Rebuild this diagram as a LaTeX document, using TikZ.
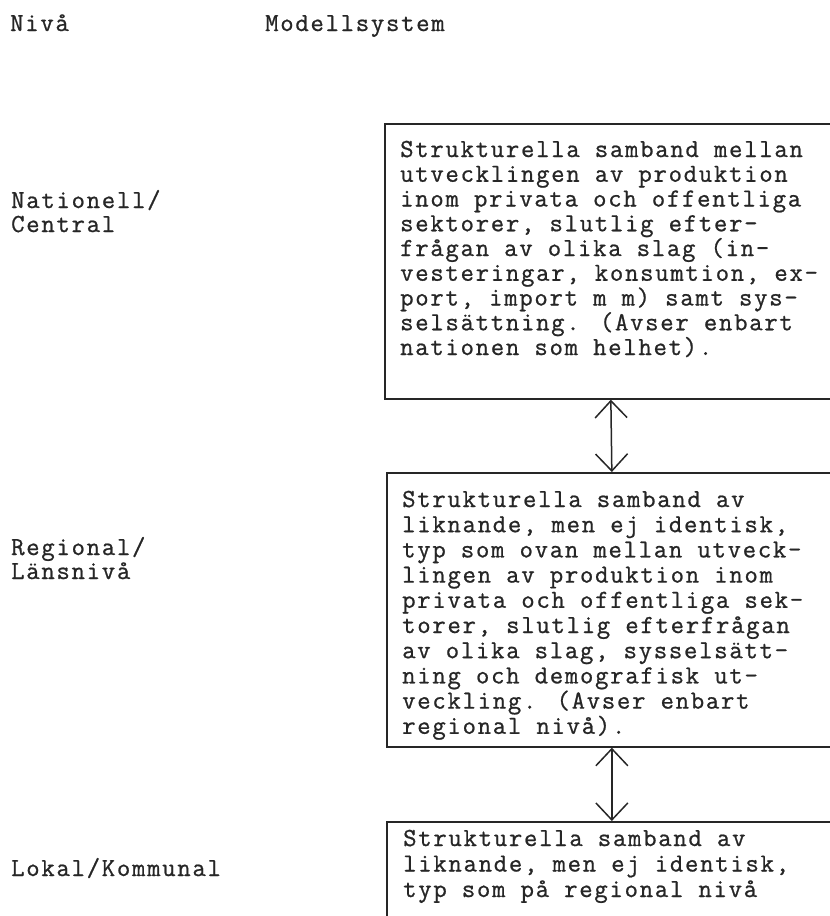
\documentclass[tikz,border=0pt]{standalone}
\usepackage{fontspec}
\setmainfont{Latin Modern Mono}[LetterSpace=6.6,FakeBold=0.8]
\usetikzlibrary{arrows.meta}
\newcommand\txtblock[2]{\parbox[t]{520pt}{\fontsize{26}{#1}\selectfont\raggedright #2}}
\tikzset{
  box/.style={draw=black!85, line width=1.7pt, anchor=north west, inner sep=0pt},
  lbl/.style={anchor=base west, inner sep=0pt, text=black!85},
  link/.style={draw=black!85, line width=1.5pt, {Straight Barb[length=17pt,width=32pt]}-{Straight Barb[length=17pt,width=32pt]}}
}
\begin{document}
\begin{tikzpicture}[x=1pt,y=1pt]
\useasboundingbox[fill=white] (0,0) rectangle (830,-916);
% header
\node[lbl] (hniva) at (10,-31) {\txtblock{25}{Nivå}};
\node[lbl] (hmodell) at (265,-31) {\txtblock{25}{Modellsystem}};
% level labels
\node[lbl] (lnat) at (11,-208) {\txtblock{24}{Nationell/\\Central}};
\node[lbl] (lreg) at (11,-555) {\txtblock{24}{Regional/\\Länsnivå}};
\node[lbl] (llok) at (11,-876) {\txtblock{24}{Lokal/Kommunal}};
% boxes
\node[box, minimum width=452pt, minimum height=275pt] (b1) at (384,-123) {};
\node[box, minimum width=450pt, minimum height=274pt] (b2) at (386,-472) {};
\node[box, minimum width=450pt, minimum height=150pt] (b3) at (386,-821) {};
% box texts
\node[lbl] (t1) at (400,-157) {\txtblock{24.75}{Strukturella samband mellan\\
utvecklingen av produktion\\
inom privata och offentliga\\
sektorer, slutlig efter-\\
frågan av olika slag (in-\\
vesteringar, konsumtion, ex-\\
port, import m m) samt sys-\\
selsättning. (Avser enbart\\
nationen som helhet).}};
\node[lbl] (t2) at (402,-507) {\txtblock{25.2}{Strukturella samband av\\
liknande, men ej identisk,\\
typ som ovan mellan utveck-\\
lingen av produktion inom\\
privata och offentliga sek-\\
torer, slutlig efterfrågan\\
av olika slag, sysselsätt-\\
ning och demografisk ut-\\
veckling. (Avser enbart\\
regional nivå).}};
\node[lbl] (t3) at (403,-846) {\txtblock{25.5}{Strukturella samband av\\
liknande, men ej identisk,\\
typ som på regional nivå}};
% connectors
\draw[link] (b1.south) -- (b2.north);
\draw[link] (b2.south) -- (b3.north);
\end{tikzpicture}
\end{document}
